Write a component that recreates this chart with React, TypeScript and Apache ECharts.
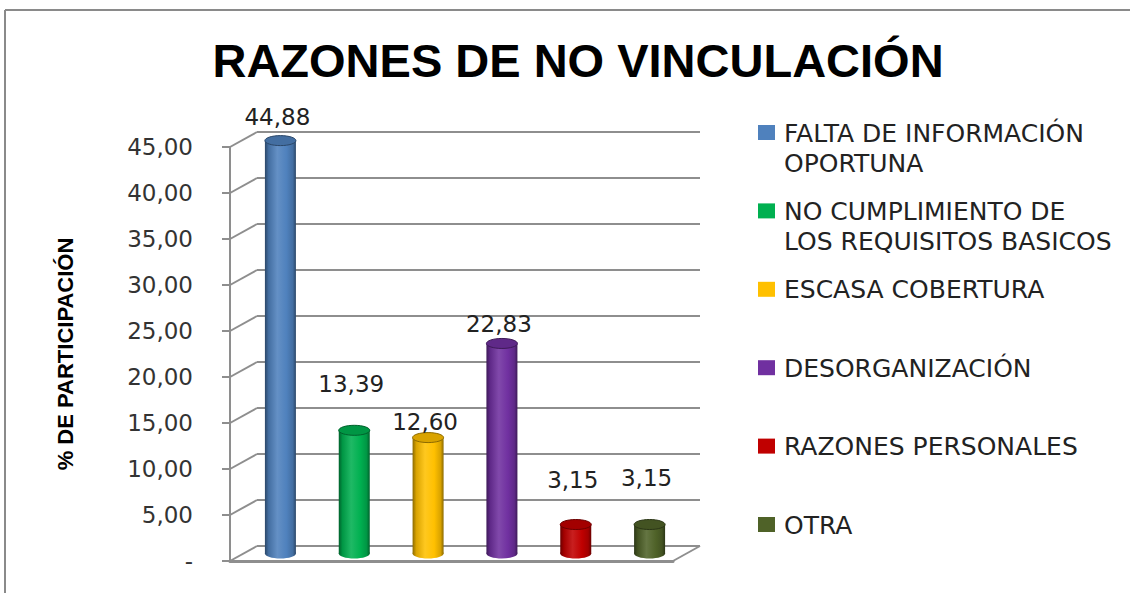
import React, { useEffect, useRef } from 'react';
import * as echarts from 'echarts';

const chartTitle = 'RAZONES DE NO VINCULACIÓN';
const yAxisName = '% DE PARTICIPACIÓN';
const categories = [
  'FALTA DE INFORMACIÓN OPORTUNA',
  'NO CUMPLIMIENTO DE LOS REQUISITOS BASICOS',
  'ESCASA COBERTURA',
  'DESORGANIZACIÓN',
  'RAZONES PERSONALES',
  'OTRA',
];
const legendLines = [
  ['FALTA DE INFORMACIÓN', 'OPORTUNA'],
  ['NO CUMPLIMIENTO DE', 'LOS REQUISITOS BASICOS'],
  ['ESCASA COBERTURA'],
  ['DESORGANIZACIÓN'],
  ['RAZONES PERSONALES'],
  ['OTRA'],
];
const values = [44.88, 13.39, 12.6, 22.83, 3.15, 3.15];
const colors = ['#4F81BD', '#00B050', '#FFC000', '#7030A0', '#C00000', '#4F6228'];
const yMin = 0;
const yMax = 45;
const yInterval = 5;
const yTicks = [0, 5, 10, 15, 20, 25, 30, 35, 40, 45];

// styling / layout constants
const labelLift = [-24, -46, -16, -19, -45, -47];
const DX = 27;
const DY = 15;
const BACK = { left: 257, top: 132, width: 443, height: 414 };
const GRID_COLOR = '#8e8e8e';

const fmt = (v: number) => v.toFixed(2).replace('.', ',');

function shade(hex: string, f: number) {
  const n = parseInt(hex.slice(1), 16);
  const ch = [(n >> 16) & 255, (n >> 8) & 255, n & 255].map((c) =>
    Math.max(0, Math.min(255, Math.round(f < 1 ? c * f : c + (255 - c) * (f - 1))))
  );
  return `rgb(${ch[0]},${ch[1]},${ch[2]})`;
}

export default function App() {
  const ref = useRef<HTMLDivElement>(null);
  useEffect(() => {
    if (!ref.current) return;
    const chart = echarts.init(ref.current, null, { renderer: 'svg' });
    const grids = [
      { left: BACK.left, top: BACK.top, width: BACK.width, height: BACK.height },
      { left: BACK.left - DX, top: BACK.top + DY, width: BACK.width, height: BACK.height },
      { left: BACK.left - DX / 2, top: BACK.top + DY / 2, width: BACK.width, height: BACK.height },
    ];
    const xAxes = grids.map((_, i) => ({
      type: 'category' as const,
      gridIndex: i,
      data: categories,
      axisLabel: { show: false },
      axisTick: { show: false },
      axisLine: { show: i === 1, lineStyle: { color: GRID_COLOR, width: 3 } },
      splitLine: { show: false },
    }));
    const yAxes = grids.map((_, i) => ({
      type: 'value' as const,
      gridIndex: i,
      min: yMin,
      max: yMax,
      interval: yInterval,
      axisLine: { show: i === 1, lineStyle: { color: GRID_COLOR, width: 2 } },
      axisTick: { show: i === 1, length: 8, lineStyle: { color: GRID_COLOR, width: 2 } },
      axisLabel: {
        show: i === 1,
        margin: 37,
        fontFamily: 'DejaVu Sans',
        fontSize: 23,
        color: '#333',
        formatter: (v: number) => (v === 0 ? '-' : fmt(v)),
      },
      splitLine: { show: i === 0, lineStyle: { color: GRID_COLOR, width: 2 } },
      name: i === 1 ? yAxisName : undefined,
      nameLocation: 'middle' as const,
      nameRotate: 90,
      nameGap: 154,
      nameTextStyle: { fontFamily: 'Liberation Sans', fontWeight: 'bold' as const, fontSize: 22, color: '#000' },
    }));

    const legendGraphics: any[] = [];
    legendLines.forEach((lines, i) => {
      const y0 = 133 + i * 78.4;
      legendGraphics.push({
        type: 'rect',
        shape: { x: 758, y: y0 - 8, width: 17, height: 15 },
        style: { fill: colors[i] },
      });
      legendGraphics.push({
        type: 'text',
        x: 784,
        y: y0 - 15,
        style: {
          text: lines.join('\n'),
          fontFamily: 'DejaVu Sans',
          fontSize: 25,
          lineHeight: 30,
          fill: '#222',
          verticalAlign: 'top',
        },
      });
    });

    chart.setOption({
      animation: false,
      backgroundColor: '#fff',
      title: {
        text: chartTitle,
        left: 573,
        textAlign: 'center',
        top: 32,
        textStyle: { fontFamily: 'Liberation Sans', fontWeight: 'bold', fontSize: 47, color: '#000' },
      },
      grid: grids,
      xAxis: xAxes,
      yAxis: yAxes,
      graphic: [
        { type: 'line', shape: { x1: 5, y1: 10, x2: 1130, y2: 10 }, style: { stroke: '#8a8a8a', lineWidth: 2 } },
        { type: 'line', shape: { x1: 5, y1: 10, x2: 5, y2: 593 }, style: { stroke: '#8a8a8a', lineWidth: 2 } },
        ...legendGraphics,
      ],
      series: [
        {
          type: 'custom',
          xAxisIndex: 0,
          yAxisIndex: 0,
          silent: true,
          data: yTicks.map((v) => [categories[0], v]),
          renderItem: (params: any, api: any) => {
            const cs = params.coordSys;
            const v = api.value(1);
            const y = api.coord([categories[0], v])[1];
            const children: any[] = [
              { type: 'line', shape: { x1: cs.x, y1: y, x2: cs.x - DX, y2: y + DY }, style: { stroke: GRID_COLOR, lineWidth: 2 } },
            ];
            if (v === 0) {
              children.push({
                type: 'line',
                shape: { x1: cs.x + cs.width, y1: y, x2: cs.x + cs.width - DX, y2: y + DY },
                style: { stroke: GRID_COLOR, lineWidth: 2 },
              });
            }
            return { type: 'group', children };
          },
        },
        {
          type: 'custom',
          xAxisIndex: 2,
          yAxisIndex: 2,
          data: values.map((v, i) => [categories[i], v]),
          renderItem: (params: any, api: any) => {
            const idx = params.dataIndex;
            const val = api.value(1);
            const base = api.coord([api.value(0), 0]);
            const top = api.coord([api.value(0), val]);
            const w = 31;
            const ry = 5;
            const c = colors[idx];
            const dark = shade(c, 0.55);
            const mid = shade(c, 0.85);
            const light = shade(c, 1.12);
            const grad = new echarts.graphic.LinearGradient(0, 0, 1, 0, [
              { offset: 0, color: dark },
              { offset: 0.12, color: mid },
              { offset: 0.4, color: light },
              { offset: 0.7, color: c },
              { offset: 0.9, color: mid },
              { offset: 1, color: dark },
            ]);
            return {
              type: 'group',
              children: [
                { type: 'ellipse', shape: { cx: base[0], cy: base[1], rx: w / 2, ry }, style: { fill: grad } },
                {
                  type: 'rect',
                  shape: { x: base[0] - w / 2, y: top[1], width: w, height: base[1] - top[1] },
                  style: { fill: grad },
                },
                {
                  type: 'ellipse',
                  shape: { cx: top[0], cy: top[1], rx: w / 2, ry },
                  style: { fill: mid, stroke: dark, lineWidth: 1 },
                },
                {
                  type: 'text',
                  style: {
                    text: fmt(val),
                    x: top[0] - 3,
                    y: top[1] + labelLift[idx],
                    align: 'center',
                    verticalAlign: 'middle',
                    fontFamily: 'DejaVu Sans',
                    fontSize: 23,
                    fill: '#222',
                  },
                },
              ],
            };
          },
        },
      ],
    });
    return () => chart.dispose();
  }, []);
  return (
    <div
      ref={ref}
      style={{ position: 'fixed', left: 0, top: 0, width: 1130, height: 593 }}
    />
  );
}
